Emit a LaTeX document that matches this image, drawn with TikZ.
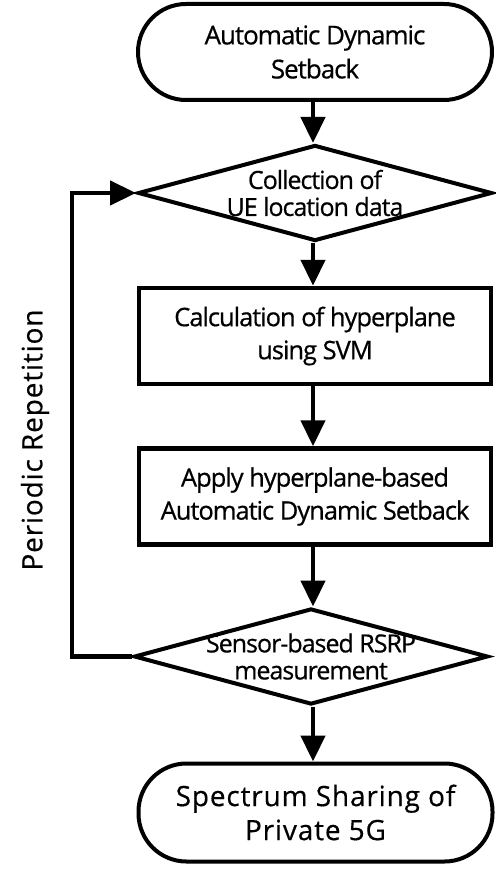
\documentclass[tikz,border=0pt]{standalone}
\usepackage{fontspec}
\setmainfont{Open Sans}
\usetikzlibrary{shapes.geometric,arrows.meta}
\newfontfamily\tightfont[LetterSpace=-4,FakeBold=0.6]{Open Sans}
\newfontfamily\widefont[LetterSpace=3,FakeBold=0.4]{Open Sans}
\tikzset{
  line/.style={line width=4.5pt},
  flow/.style={line, -{Triangle[length=26pt,width=24pt]}},
  term/.style={draw, line width=4pt, rounded corners=48pt, minimum width=354pt, minimum height=96pt, inner sep=0pt, align=center, font=\widefont\fontsize{28}{34}\selectfont},
  termtight/.style={term, font=\tightfont\fontsize{26}{34}\selectfont},
  procbox/.style={draw, line width=4.5pt, minimum width=352pt, minimum height=96pt, inner sep=0pt, align=center, font=\tightfont\fontsize{25.5}{33}\selectfont},
  decide/.style={draw, diamond, line width=4pt, inner sep=0pt, minimum width=354pt, minimum height=96pt},
  dlabel/.style={align=center, font=\tightfont\fontsize{25}{27}\selectfont},
}
\begin{document}
\begin{tikzpicture}[x=1pt,y=-1pt]
\useasboundingbox (0,0) rectangle (495,869);
\coordinate (col) at (313,0);
\node[termtight] (start) at (315,52) {Automatic Dynamic\\Setback};
\node[decide, label={[dlabel]center:Collection of\\UE location data}] (d1) at (315,193) {};
\node[procbox] (r1) at (315,336) {Calculation of hyperplane\\using SVM};
\node[procbox] (r2) at (315,496.5) {Apply hyperplane-based\\Automatic Dynamic Setback};
\node[decide, label={[dlabel]center:Sensor-based RSRP\\measurement}] (d2) at (311,656.5) {};
\node[term, minimum height=98pt] (end) at (315.5,812.5) {Spectrum Sharing of\\Private 5G};
\node[rotate=90, font=\widefont\fontsize{28}{30}\selectfont] (rep) at (35,440) {Periodic Repetition};
\coordinate (lb) at (72,656.5);
\coordinate (lt) at (72,193);
\draw[flow] (start.south -| col) -- (d1.north -| col);
\draw[flow] (d1.south -| col) -- (r1.north -| col);
\draw[flow] (r1.south -| col) -- (r2.north -| col);
\draw[flow] (r2.south -| col) -- (d2.north -| col);
\draw[flow] (d2.south -| col) -- (end.north -| col);
\draw[flow] (d2.west) -- (lb) -- (lt) -- (d1.west);
\end{tikzpicture}
\end{document}
